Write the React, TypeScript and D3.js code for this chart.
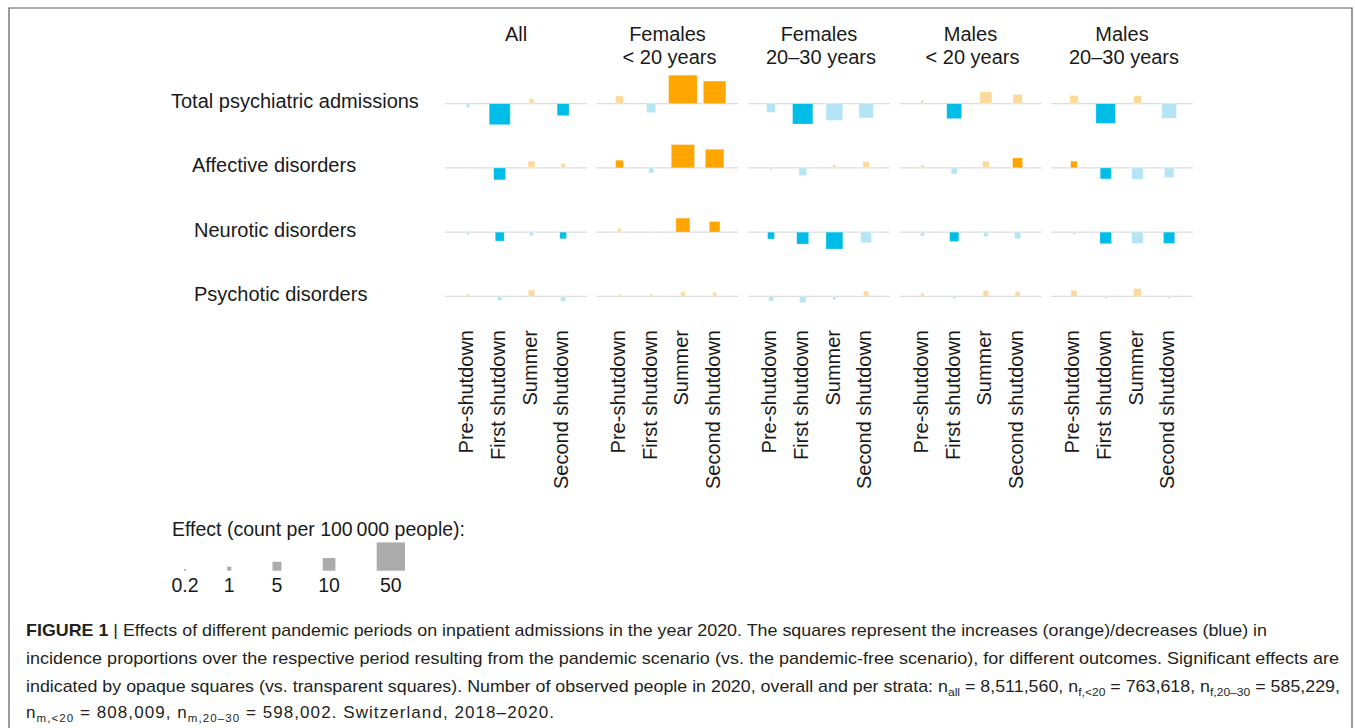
import React from "react";
import * as d3 from "d3";

// ---------- data ----------
const periods = ["Pre-shutdown", "First shutdown", "Summer", "Second shutdown"];
const groupLine1 = ["All", "Females", "Females", "Males", "Males"];
const groupLine2 = ["", "< 20 years", "20–30 years", "< 20 years", "20–30 years"];
const outcomes = [
  "Total psychiatric admissions",
  "Affective disorders",
  "Neurotic disorders",
  "Psychotic disorders",
];

// values: 5 groups x 4 periods (count per 100 000 people)
const totalValues = [-0.85, -27.6, 1.56, -9, 3.7, -5, 51, 32, -4.7, -25.8, -17.4, -12.8, 0.56, -14, 9, 5.4, 4.3, -24.2, 4, -13.4];
const totalSig = [0, 1, 0, 1, 0, 0, 1, 1, 0, 1, 0, 0, 0, 1, 0, 0, 0, 1, 0, 0];
const affectiveValues = [0.1, -9, 3, 1.2, 3.7, -1.6, 34, 21.8, -0.25, -3.7, 0.7, 2.5, 0.56, -2.25, 2.8, 6.25, 2.8, -7.6, -8, -5.8];
const affectiveSig = [0, 1, 0, 0, 1, 0, 1, 1, 0, 0, 0, 0, 0, 0, 0, 1, 1, 1, 0, 0];
const neuroticValues = [-0.45, -5, -0.85, -2.8, 0.85, -0.05, 12.25, 7.1, -3, -9, -18, -7.1, -1, -5.4, -1.2, -2.5, -0.35, -8.5, -8, -8];
const neuroticSig = [0, 1, 0, 1, 0, 0, 1, 1, 1, 1, 1, 0, 0, 1, 0, 0, 0, 1, 0, 1];
const psychoticValues = [0.33, -1.2, 2.5, -1.4, 0.35, 0.35, 1.2, 1, -1.4, -2.5, -0.7, 1.8, 0.7, -0.45, 2, 1.4, 2.25, -0.35, 3.7, -0.35];
const psychoticSig = [0, 0, 0, 0, 0, 0, 0, 0, 0, 0, 0, 0, 0, 0, 0, 0, 0, 0, 0, 0];

const legendValues = [0.2, 1, 5, 10, 50];
const legendLabels = ["0.2", "1", "5", "10", "50"];

const rowValues = [totalValues, affectiveValues, neuroticValues, psychoticValues];
const rowSig = [totalSig, affectiveSig, neuroticSig, psychoticSig];

// ---------- layout / style ----------
const W = 1355;
const H = 728;
const FONT = "'Liberation Sans', Arial, Helvetica, sans-serif";
const TEXT = "#1a1a1a";
const ORANGE = "#FFA500";
const ORANGE_LIGHT = "#FDDA9C";
const BLUE = "#00BDE8";
const BLUE_LIGHT = "#B5E4F5";
const rowLabelX = [171, 192, 194, 194];

const groupX = d3.scaleLinear().domain([0, 4]).range([445, 445 + 4 * 151.5]);
const panelW = 142;
const colX = d3.scaleLinear().domain([0, 3]).range([23, 23 + 3 * 31.7]);
const rowY = d3.scaleLinear().domain([0, 3]).range([103.7, 296.3]);
const side = d3.scaleSqrt().domain([0, 50]).range([0, 28.3]);

export default function App() {
  const squares: React.ReactNode[] = [];
  rowValues.forEach((vals, r) => {
    vals.forEach((v, i) => {
      const g = Math.floor(i / 4);
      const p = i % 4;
      const cx = groupX(g) + colX(p);
      const s = side(Math.abs(v));
      const y0 = rowY(r);
      const sig = rowSig[r][i] === 1;
      const fill = v >= 0 ? (sig ? ORANGE : ORANGE_LIGHT) : sig ? BLUE : BLUE_LIGHT;
      squares.push(
        <rect
          key={`sq-${r}-${i}`}
          x={cx - s / 2}
          y={v >= 0 ? y0 - s : y0}
          width={s}
          height={s}
          fill={fill}
          stroke="#ffffff"
          strokeOpacity={0.45}
          strokeWidth={0.7}
        />
      );
    });
  });

  // legend x positions: cumulative with a constant gap between squares
  const legendGap = 41.3;
  const legendX: number[] = [];
  legendValues.forEach((v, i) => {
    if (i === 0) legendX.push(185);
    else legendX.push(legendX[i - 1] + (side(legendValues[i - 1]) + side(v)) / 2 + legendGap);
  });

  const capStyle = { fontFamily: FONT, fontSize: 17, fill: "#231F20" } as const;
  const sub = 11.5;

  return (
    <svg
      width={W}
      height={H}
      viewBox={`0 0 ${W} ${H}`}
      style={{ position: "absolute", left: 0, top: 0, display: "block", background: "#fff" }}
    >
      <rect x={0} y={0} width={W} height={H} fill="#fff" />
      {/* frame */}
      <path d={`M9,${H} V8 H1352 V${H}`} fill="none" stroke="#5a5a5a" strokeWidth={1.2} />

      {/* group headers */}
      {groupLine1.map((t, g) => (
        <g key={`hdr-${g}`} fontFamily={FONT} fontSize={20} fill={TEXT} textAnchor="middle">
          <text x={groupX(g) + panelW / 2} y={41}>{t}</text>
          {groupLine2[g] && (
            <text x={groupX(g) + panelW / 2 + 2} y={63.5}>{groupLine2[g]}</text>
          )}
        </g>
      ))}

      {/* row labels */}
      {outcomes.map((o, r) => (
        <text key={`row-${r}`} x={rowLabelX[r]} y={rowY(r) + 4.5} fontFamily={FONT} fontSize={20} fill={TEXT}>
          {o}
        </text>
      ))}

      {/* baselines */}
      {outcomes.map((_, r) =>
        groupLine1.map((__, g) => (
          <line
            key={`bl-${r}-${g}`}
            x1={groupX(g)}
            x2={groupX(g) + panelW}
            y1={rowY(r)}
            y2={rowY(r)}
            stroke="#dcdcdc"
            strokeWidth={1.3}
          />
        ))
      )}

      {squares}

      {/* period labels */}
      {groupLine1.map((_, g) =>
        periods.map((p, k) => {
          const x = groupX(g) + colX(k) + 5.3;
          return (
            <text
              key={`pl-${g}-${k}`}
              transform={`translate(${x},330) rotate(-90)`}
              textAnchor="end"
              fontFamily={FONT}
              fontSize={20}
              fill={TEXT}
            >
              {p}
            </text>
          );
        })
      )}

      {/* legend */}
      <text x={172} y={536} fontFamily={FONT} fontSize={19.5} fill={TEXT}>
        Effect (count per 100{"\u2009"}000 people):
      </text>
      {legendValues.map((v, i) => {
        const s = side(v);
        return (
          <g key={`lg-${i}`}>
            <rect x={legendX[i] - s / 2} y={570.7 - s} width={s} height={s} fill="#ABABAB" />
            <text x={legendX[i]} y={592} textAnchor="middle" fontFamily={FONT} fontSize={19.5} fill={TEXT}>
              {legendLabels[i]}
            </text>
          </g>
        );
      })}

      {/* caption */}
      <text x={26} y={636} {...capStyle} textLength={1241} lengthAdjust="spacingAndGlyphs">
        <tspan fontWeight="bold">FIGURE 1</tspan>
        <tspan> | Effects of different pandemic periods on inpatient admissions in the year 2020. The squares represent the increases (orange)/decreases (blue) in</tspan>
      </text>
      <text x={26} y={664} {...capStyle} textLength={1313} lengthAdjust="spacingAndGlyphs">
        incidence proportions over the respective period resulting from the pandemic scenario (vs. the pandemic-free scenario), for different outcomes. Significant effects are
      </text>
      <text x={26} y={692} {...capStyle} textLength={1314} lengthAdjust="spacingAndGlyphs">
        <tspan>indicated by opaque squares (vs. transparent squares). Number of observed people in 2020, overall and per strata: n</tspan>
        <tspan fontSize={sub} dy={4}>all</tspan>
        <tspan dy={-4}> = 8,511,560, n</tspan>
        <tspan fontSize={sub} dy={4}>f,&lt;20</tspan>
        <tspan dy={-4}> = 763,618, n</tspan>
        <tspan fontSize={sub} dy={4}>f,20–30</tspan>
        <tspan dy={-4}> = 585,229,</tspan>
      </text>
      <text x={26} y={718} {...capStyle} textLength={528} lengthAdjust="spacing">
        <tspan>n</tspan>
        <tspan fontSize={sub} dy={4}>m,&lt;20</tspan>
        <tspan dy={-4}> = 808,009, n</tspan>
        <tspan fontSize={sub} dy={4}>m,20–30</tspan>
        <tspan dy={-4}> = 598,002. Switzerland, 2018–2020.</tspan>
      </text>
    </svg>
  );
}
